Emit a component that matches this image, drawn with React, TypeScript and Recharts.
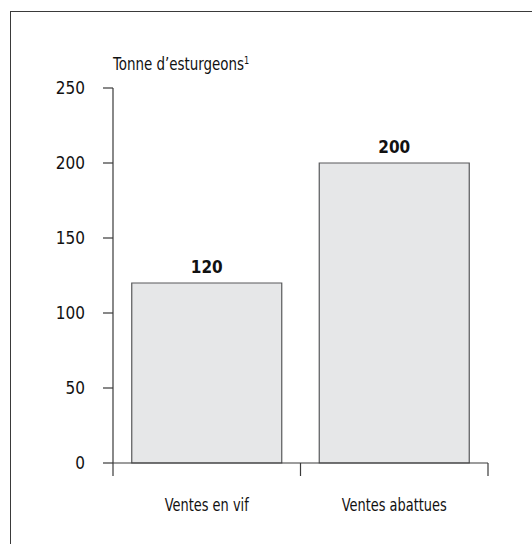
import React from 'react';
import { BarChart, Bar, XAxis, YAxis, LabelList, Label } from 'recharts';

// Data
const categories = ['Ventes en vif', 'Ventes abattues'];
const tonnes = [120, 200];
const yTicks = [0, 50, 100, 150, 200, 250];
const yTitle = 'Tonne d\u2019esturgeons';
const yTitleNote = '1';

const data = categories.map((name, i) => ({ name, tonnes: tonnes[i] }));

const W = 532;
const H = 544;
const MARGIN = { top: 88, right: 44, bottom: 41, left: 13 };
const Y_AXIS_W = 100;
const X_AXIS_H = 40;
const PLOT_BOTTOM = H - MARGIN.bottom - X_AXIS_H;
const PLOT_W = W - MARGIN.left - MARGIN.right - Y_AXIS_W;
const BAND = PLOT_W / categories.length;

const FONT = '"DejaVu Sans", sans-serif';
const STRETCH = { fontStretch: 'condensed' } as React.CSSProperties;
const AXIS = '#3a3a3a';
const TEXT = '#111';

function CategoryTick(props: any) {
  const { x, index, payload } = props;
  const left = x - BAND / 2;
  const right = x + BAND / 2;
  return (
    <g>
      <line x1={left} y1={PLOT_BOTTOM} x2={left} y2={PLOT_BOTTOM + 13} stroke={AXIS} strokeWidth={1.2} />
      {index === categories.length - 1 && (
        <line x1={right} y1={PLOT_BOTTOM} x2={right} y2={PLOT_BOTTOM + 13} stroke={AXIS} strokeWidth={1.2} />
      )}
      <text
        transform={`translate(${x} ${PLOT_BOTTOM + 48}) scale(0.8 1)`}
        textAnchor="middle"
        fontFamily={FONT}
        fontSize={18}
        fill={TEXT}
        style={STRETCH}
      >
        {payload.value}
      </text>
    </g>
  );
}

function renderTitle(props: any) {
  const vb = props.viewBox || {};
  return (
    <text
      transform={`translate(${vb.x + vb.width} ${vb.y - 18}) scale(0.83 1)`}
      fontFamily={FONT}
      fontSize={18}
      fill={TEXT}
      style={STRETCH}
    >
      {yTitle}
      <tspan fontSize={11} dy={-6}>{yTitleNote}</tspan>
    </text>
  );
}

export default function App() {
  return (
    <div style={{ position: 'absolute', left: 0, top: 0, width: W, height: H, background: '#fff' }}>
      <div
        style={{
          position: 'absolute',
          left: 10,
          top: 11,
          right: 0,
          bottom: 0,
          borderTop: `1.5px solid ${AXIS}`,
          borderLeft: `1.5px solid ${AXIS}`,
        }}
      />
      <div style={{ position: 'absolute', left: 0, top: 0 }}>
        <BarChart width={W} height={H} data={data} margin={MARGIN} barCategoryGap="10%">
          <XAxis
            dataKey="name"
            height={X_AXIS_H}
            axisLine={{ stroke: AXIS, strokeWidth: 1.2 }}
            tickLine={false}
            tick={<CategoryTick />}
            interval={0}
          />
          <YAxis
            width={Y_AXIS_W}
            domain={[0, 250]}
            ticks={yTicks}
            tickSize={10}
            tickMargin={18}
            axisLine={{ stroke: AXIS, strokeWidth: 1.2 }}
            tickLine={{ stroke: AXIS, strokeWidth: 1.2 }}
            tick={{ fill: TEXT, fontSize: 17, fontFamily: FONT, style: STRETCH }}
          >
            <Label content={renderTitle} />
          </YAxis>
          <Bar dataKey="tonnes" fill="#e6e7e8" stroke="#58595b" strokeWidth={1.2} isAnimationActive={false}>
            <LabelList
              dataKey="tonnes"
              position="top"
              offset={10}
              fill={TEXT}
              fontFamily={FONT}
              fontSize={17}
              fontWeight="bold"
              style={STRETCH}
            />
          </Bar>
        </BarChart>
      </div>
    </div>
  );
}
